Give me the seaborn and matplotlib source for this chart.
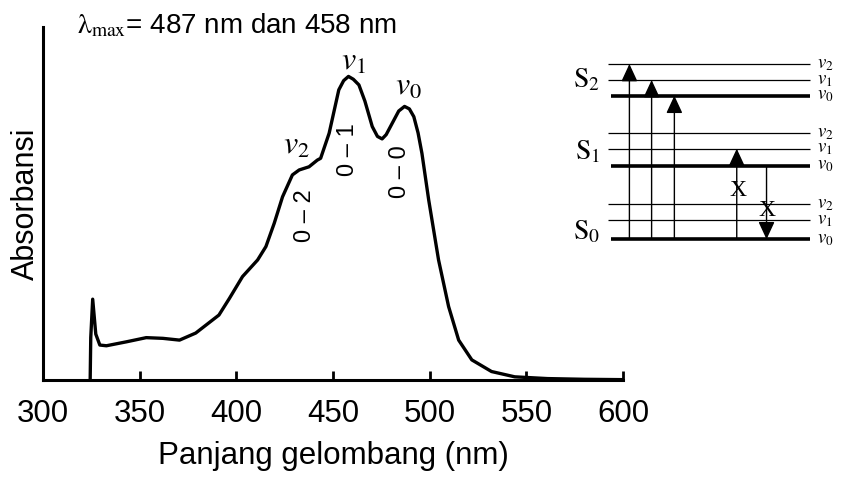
import matplotlib
matplotlib.use("Agg")
import matplotlib.pyplot as plt
import seaborn as sns

# Absorption spectrum
wavelength = [324.4, 324.7, 325.7, 327.3, 329.4, 332.8, 343.0, 353.4, 362.0, 370.6,
              379.0, 391.0, 396.4, 403.2, 411.0, 415.3, 419.6, 423.9, 429.0, 432.5,
              437.6, 441.9, 443.6, 448.0, 453.0, 455.5, 458.0, 460.5, 463.4, 466.5,
              470.3, 473.0, 475.4, 477.5, 480.6, 484.0, 487.0, 489.5, 491.8, 494.0,
              496.0, 499.5, 504.6, 509.8, 515.0, 521.8, 532.0, 544.0, 561.0, 580.0, 600.0]
absorbance = [0.0, 0.12, 0.229, 0.13, 0.099, 0.097, 0.108, 0.120, 0.118, 0.113,
              0.133, 0.184, 0.231, 0.293, 0.340, 0.378, 0.444, 0.519, 0.581, 0.595,
              0.604, 0.623, 0.628, 0.699, 0.822, 0.848, 0.860, 0.852, 0.836, 0.790,
              0.718, 0.690, 0.683, 0.695, 0.727, 0.762, 0.775, 0.768, 0.746, 0.700,
              0.642, 0.510, 0.340, 0.208, 0.113, 0.057, 0.024, 0.009, 0.004, 0.002, 0.001]
xticks = [300, 350, 400, 450, 500, 550, 600]

# vibronic peak labels
peak_names = [r"$\mathit{v}_{\mathit{2}}$", r"$\mathit{v}_{\mathit{1}}$", r"$\mathit{v}_{\mathit{0}}$"]
peak_pos = [(430.8, 0.663), (460.8, 0.901), (489.2, 0.830)]
band_names = ["0 – 2", "0 – 1", "0 – 0"]
band_pos = [(435.5, 0.467), (457.9, 0.654), (484.6, 0.589)]

# Energy level diagram
state_names = ["0", "1", "2"]
level_energy = [[0, 19, 35], [73.6, 90.6, 106], [143.6, 159.3, 175.3]]
state_label_y = [7.6, 87, 159]
# (from state, from v, to state, to v)
transitions = [(0, 0, 2, 2), (0, 0, 2, 1), (0, 0, 2, 0), (0, 0, 1, 1), (1, 0, 0, 0)]
arrow_x = [24.7, 32.6, 40.7, 62.9, 73.5]
forbidden = [(63.3, 49.3), (73.5, 29.3)]

sns.set_style("ticks")
plt.rcParams["font.family"] = ["Liberation Sans", "DejaVu Sans"]
plt.rcParams["mathtext.fontset"] = "stix"
plt.rcParams["text.color"] = "black"
plt.rcParams["axes.labelcolor"] = "black"
plt.rcParams["xtick.color"] = "black"
plt.rcParams["axes.edgecolor"] = "black"

fig = plt.figure(figsize=(8.41, 4.78), dpi=100)
ax = fig.add_axes([43 / 841, 98 / 478, 580 / 841, 353 / 478])

sns.lineplot(x=wavelength, y=absorbance, ax=ax, color="black", lw=2.4,
             estimator=None, sort=False, solid_joinstyle="round")
ax.set_xlim(300, 600)
ax.set_ylim(0, 1)
ax.set_xticks(xticks)
ax.set_yticks([])
ax.tick_params(axis="x", direction="in", length=6.5, width=2, labelsize=22.5, pad=14,
               colors="black")
sns.despine(ax=ax)
for side in ["left", "bottom"]:
    ax.spines[side].set_linewidth(2.2)

ax.set_xlabel("Panjang gelombang (nm)", fontsize=22.5, labelpad=8)
ax.set_ylabel("Absorbansi", fontsize=22)
ax.yaxis.set_label_coords(-0.004, 0.5)

ax.text(0.058, 0.983, r"$\mathrm{\lambda}_{\mathrm{max}}$= 487 nm dan 458 nm",
        transform=ax.transAxes, fontsize=20, va="baseline", ha="left")

for name, (x, y) in zip(peak_names, peak_pos):
    ax.text(x, y, name, fontsize=23, ha="center", va="center")
for name, (x, y) in zip(band_names, band_pos):
    ax.text(x, y, name, fontsize=17, rotation=90, ha="center", va="center")

# Energy diagram
dax = fig.add_axes([560 / 841, 228 / 478, 281 / 841, 200 / 478])
dax.set_xlim(0, 100)
dax.set_ylim(-10.7, 189.3)
dax.axis("off")

for s, levels in enumerate(level_energy):
    for v, e in enumerate(levels):
        if v == 0:
            dax.hlines(e, 18.1, 89, color="black", lw=2.6)
        else:
            dax.hlines(e, 17.1, 89, color="black", lw=0.9)
        dax.text(91.3, e, r"$\mathit{v}_{\mathit{%d}}$" % v, fontsize=13.5, ha="left", va="center")
    dax.text(14.4, state_label_y[s], r"$\mathrm{S}_{%s}$" % state_names[s], fontsize=20,
             ha="right", va="center")

for x, (s0, v0, s1, v1) in zip(arrow_x, transitions):
    dax.annotate("", xy=(x, level_energy[s1][v1]), xytext=(x, level_energy[s0][v0]),
                 arrowprops=dict(arrowstyle="-|>,head_length=0.54,head_width=0.25",
                                 mutation_scale=20, color="black", lw=1.0,
                                 shrinkA=0, shrinkB=0))

for x, y in forbidden:
    dax.text(x, y, "X", fontsize=17, family="Liberation Serif", ha="center", va="center")

fig.savefig("out.png", dpi=100)
